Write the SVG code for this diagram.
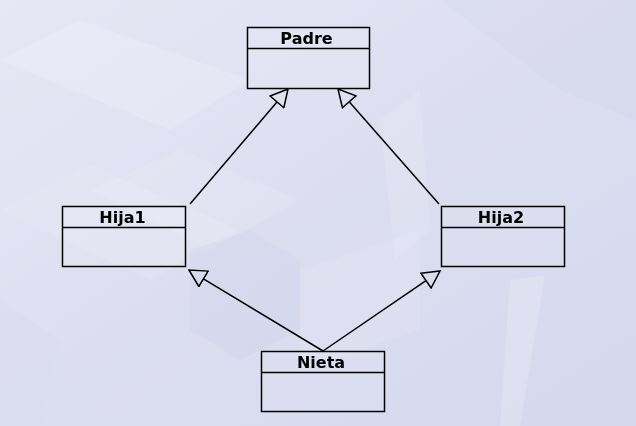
<svg xmlns="http://www.w3.org/2000/svg" width="636" height="426" viewBox="0 0 636 426">
  <defs>
    <linearGradient id="bg" x1="0" y1="0" x2="1" y2="1">
      <stop offset="0" stop-color="#e7e7f5"/>
      <stop offset="0.5" stop-color="#dcdef0"/>
      <stop offset="1" stop-color="#d5d8ee"/>
    </linearGradient>
    <marker id="tri" viewBox="-1 -10 19 20" refX="0" refY="0" markerWidth="19" markerHeight="20" markerUnits="userSpaceOnUse" orient="auto">
      <path d="M0,-9 L17,0 L0,9 Z" fill="none" stroke="#000" stroke-width="1.5" stroke-linejoin="miter"/>
    </marker>
    <style>
      .box { fill: #ffffff; fill-opacity: 0.08; stroke: #000; stroke-width: 1.5; }
      .div { stroke: #000; stroke-width: 1.5; }
      .lbl { font-family: "DejaVu Sans", "Liberation Sans", sans-serif; font-weight: bold; font-size: 16px; fill: #000; text-anchor: middle; }
      .edge { fill: none; stroke: #000; stroke-width: 1.5; marker-end: url(#tri); }
      .bgw { fill: #ffffff; }
      .bgd { fill: #b8bde0; }
    </style>
  </defs>
  <rect width="636" height="426" fill="url(#bg)"/>
  <g id="background" opacity="0.35">
    <polygon class="bgw" points="0,60 80,20 250,80 170,130" opacity="0.5"/>
    <polygon class="bgw" points="0,210 90,165 240,230 150,280" opacity="0.35"/>
    <polygon class="bgw" points="90,190 180,150 300,200 210,250" opacity="0.3"/>
    <polygon class="bgd" points="190,250 250,230 300,260 300,330 240,360 190,330" opacity="0.35"/>
    <polygon class="bgw" points="300,270 420,230 420,330 300,370" opacity="0.3"/>
    <polygon class="bgw" points="510,280 545,275 520,426 500,426" opacity="0.5"/>
    <polygon class="bgd" points="440,0 636,0 636,120 560,90" opacity="0.25"/>
    <polygon class="bgd" points="0,300 60,340 40,426 0,426" opacity="0.2"/>
    <polygon class="bgw" points="380,120 420,90 430,230 395,260" opacity="0.35"/>
  </g>
  <g id="connectors">
    <line class="edge" x1="190" y1="204" x2="277" y2="101.9"/>
    <line class="edge" x1="439" y1="204" x2="349.2" y2="101.8"/>
    <line class="edge" x1="323" y1="351" x2="203.5" y2="278.8"/>
    <line class="edge" x1="323" y1="351" x2="426" y2="280.6"/>
  </g>
  <g id="Padre">
    <rect class="box" x="247.5" y="27.5" width="122" height="61"/>
    <line class="div" x1="247.5" y1="48.5" x2="369.5" y2="48.5"/>
    <text class="lbl" x="306.5" y="43.5">Padre</text>
  </g>
  <g id="Hija1">
    <rect class="box" x="62.5" y="206.5" width="123" height="60"/>
    <line class="div" x1="62.5" y1="227.5" x2="185.5" y2="227.5"/>
    <text class="lbl" x="122.5" y="222.5">Hija1</text>
  </g>
  <g id="Hija2">
    <rect class="box" x="441.5" y="206.5" width="123" height="60"/>
    <line class="div" x1="441.5" y1="227.5" x2="564.5" y2="227.5"/>
    <text class="lbl" x="501" y="222.5">Hija2</text>
  </g>
  <g id="Nieta">
    <rect class="box" x="261.5" y="351.5" width="123" height="60"/>
    <line class="div" x1="261.5" y1="372.5" x2="384.5" y2="372.5"/>
    <text class="lbl" x="321" y="367.5">Nieta</text>
  </g>
</svg>
